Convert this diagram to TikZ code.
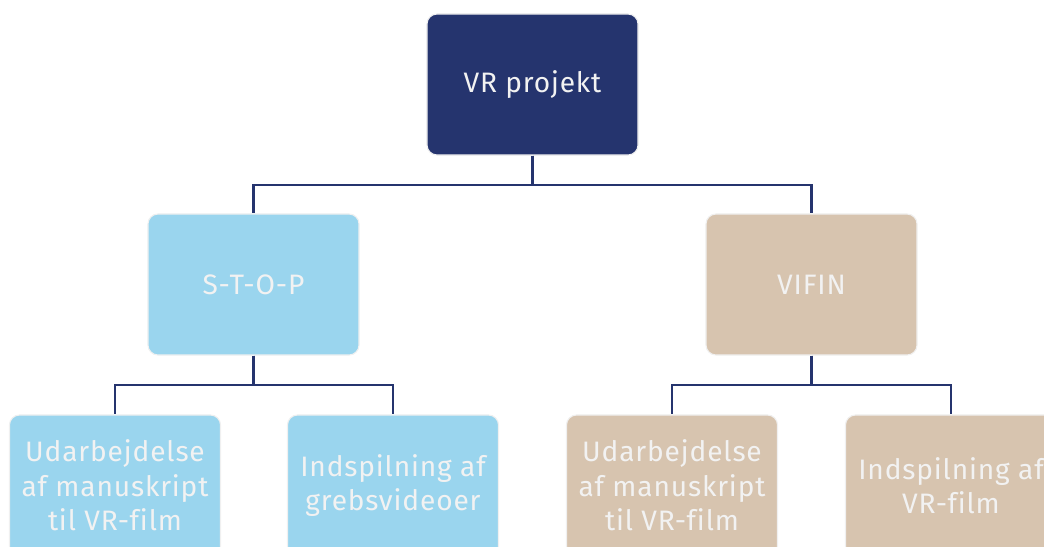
\documentclass[tikz,border=0pt]{standalone}
\usepackage{fontspec}
\setmainfont{Fira Sans}[Ligatures=NoCommon, LetterSpace=3]
\usetikzlibrary{positioning}
\definecolor{navy}{HTML}{25346E}
\definecolor{himmel}{HTML}{9AD5EE}
\definecolor{sand}{HTML}{D7C4AF}
\begin{document}
\begin{tikzpicture}[x=0.025cm, y=-0.025cm,
    box/.style={rounded corners=0.25cm, minimum width=5.275cm, minimum height=3.525cm,
      draw=white!94!black, line width=0.8pt, align=center, text=white!95!black,
      font=\fontsize{20}{24.5}\selectfont},
    link/.style={navy, line width=1.8pt}]
  \useasboundingbox (0,0) rectangle (1044,546);
  % levels
  \node[box, fill=navy] (vr) at (532.5,84.5) {VR projekt};
  \node[box, fill=himmel] (stop) at (253.5,284.5) {S-T-O-P};
  \node[box, fill=sand] (vifin) at (811.5,284.5) {VIFIN};
  \node[box, fill=himmel] (stopa) at (115,485.5) {Udarbejdelse\\af manuskript\\til VR-film};
  \node[box, fill=himmel] (stopb) at (393,485.5) {Indspilning af\\grebsvideoer};
  \node[box, fill=sand] (vifina) at (672,485.5) {Udarbejdelse\\af manuskript\\til VR-film};
  \node[box, fill=sand] (vifinb) at (951,485.5) {Indspilning af\\VR-film};
  % connectors
  \draw[link] (vr.south) -- ++(0,29.5) -| (stop.north);
  \draw[link] (vr.south) -- ++(0,29.5) -| (vifin.north);
  \draw[link] (stop.south) -- ++(0,29.5) -| (stopa.north);
  \draw[link] (stop.south) -- ++(0,29.5) -| (stopb.north);
  \draw[link] (vifin.south) -- ++(0,29.5) -| (vifina.north);
  \draw[link] (vifin.south) -- ++(0,29.5) -| (vifinb.north);
\end{tikzpicture}
\end{document}
